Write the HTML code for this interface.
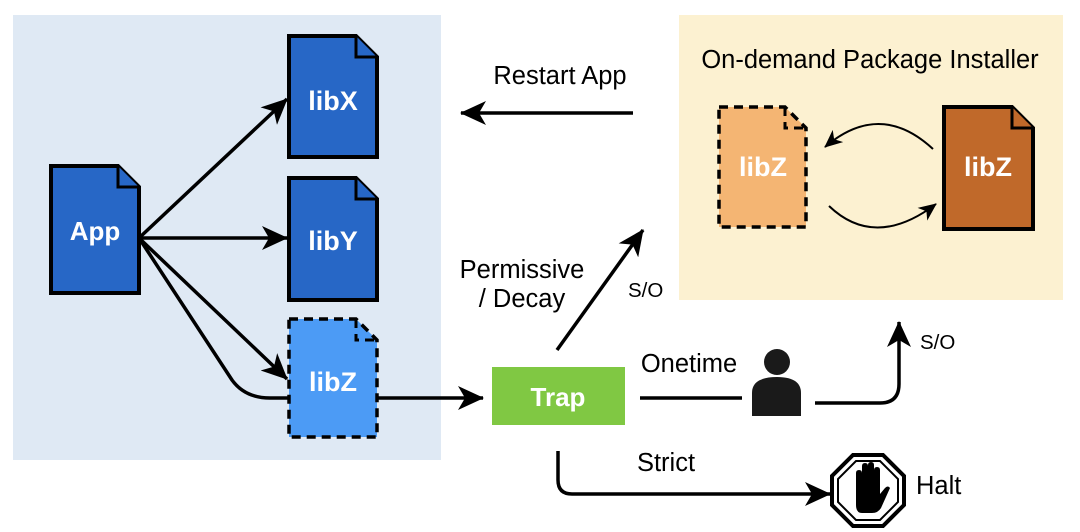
<!DOCTYPE html>
<html><head><style>
html,body{margin:0;padding:0;background:#fff;}
svg{display:block;font-family:"Liberation Sans",Arial,sans-serif;}
</style></head><body>
<svg width="1080" height="532" viewBox="0 0 1080 532" xmlns="http://www.w3.org/2000/svg">
<defs>
<marker id="a" viewBox="0 0 26 24" refX="25" refY="12" markerWidth="26" markerHeight="24" orient="auto" markerUnits="userSpaceOnUse">
<path d="M0,0 L26,12 L0,24 L7,12 Z" fill="#000"/>
</marker>
<marker id="s" viewBox="0 0 18 16" refX="17" refY="8" markerWidth="18" markerHeight="16" orient="auto" markerUnits="userSpaceOnUse">
<path d="M0,0 L18,8 L0,16 L5,8 Z" fill="#000"/>
</marker>
</defs>
<rect x="13" y="15" width="428" height="445" fill="#dfe9f4"/>
<rect x="679" y="15" width="384" height="285" fill="#fcf1d1"/>

<path d="M51,166 H118 L139,187 V293 H51 Z" fill="#2767c6" stroke="#000" stroke-width="4"/>
<path d="M118,166 V187 H139" fill="#2767c6" stroke="#000" stroke-width="3"/>
<text x="95" y="240" font-size="26" font-weight="bold" fill="#fff" text-anchor="middle">App</text>
<path d="M289,36 H356 L377,57 V157 H289 Z" fill="#2767c6" stroke="#000" stroke-width="4"/>
<path d="M356,36 V57 H377" fill="#2767c6" stroke="#000" stroke-width="3"/>
<text x="333" y="110" font-size="27" font-weight="bold" fill="#fff" text-anchor="middle">libX</text>
<path d="M289,178 H356 L377,199 V300 H289 Z" fill="#2767c6" stroke="#000" stroke-width="4"/>
<path d="M356,178 V199 H377" fill="#2767c6" stroke="#000" stroke-width="3"/>
<text x="333" y="250" font-size="27" font-weight="bold" fill="#fff" text-anchor="middle">libY</text>
<path d="M289,319 H356 L377,340 V437 H289 Z" fill="#4c9bf5" stroke="#000" stroke-width="3.5" stroke-dasharray="9,6"/>
<path d="M356,319 V340 H377" fill="none" stroke="#000" stroke-width="3" stroke-dasharray="9,6"/>
<text x="333" y="391" font-size="27" font-weight="bold" fill="#fff" text-anchor="middle">libZ</text>

<g stroke="#000" stroke-width="3.5" fill="none">
<line x1="139" y1="238" x2="287" y2="99" marker-end="url(#a)"/>
<line x1="139" y1="238" x2="287" y2="238" marker-end="url(#a)"/>
<line x1="139" y1="238" x2="287" y2="379" marker-end="url(#a)"/>
<path d="M139,238 L232,380 Q245,398 270,398 H289"/>
<line x1="377" y1="398" x2="483" y2="398" marker-end="url(#a)"/>
<line x1="633" y1="113" x2="461" y2="113" marker-end="url(#a)"/>
<line x1="557" y1="350" x2="643" y2="230" marker-end="url(#a)"/>
<line x1="640" y1="398" x2="742" y2="398"/>
<path d="M815,403 H880 Q899,403 899,384 V322" marker-end="url(#a)"/>
<path d="M558,451 V480 Q558,494 572,494 H830" marker-end="url(#a)"/>
</g>

<rect x="492" y="367" width="133" height="58" fill="#80c843"/>
<text x="558" y="406" font-size="26" font-weight="bold" fill="#fff" text-anchor="middle">Trap</text>

<g font-size="25.5" fill="#000">
<text x="560" y="84" text-anchor="middle">Restart App</text>
<text x="522" y="278" text-anchor="middle">Permissive</text>
<text x="522" y="307" text-anchor="middle">/ Decay</text>
<text x="689" y="372" text-anchor="middle">Onetime</text>
<text x="666" y="471" text-anchor="middle">Strict</text>
<text x="916" y="494">Halt</text>
<text x="870" y="68" text-anchor="middle" font-size="25.5">On-demand Package Installer</text>
</g>
<g font-size="20.5" fill="#000">
<text x="628" y="297">S/O</text>
<text x="920" y="349">S/O</text>
</g>

<circle cx="777" cy="362" r="13" fill="#1a1a1a"/>
<path d="M752,416 V393 Q752,377 777,377 Q801,377 801,393 V416 Z" fill="#1a1a1a"/>

<polygon points="853,455 883,455 904,476 904,505 883,526 853,526 832,505 832,476" fill="#fff" stroke="#000" stroke-width="4"/>
<polygon points="856,461 880,461 898,479 898,502 880,520 856,520 838,502 838,479" fill="#fff" stroke="#000" stroke-width="2"/>
<path d="M856,505 V473 Q856,470 859,470 Q862,470 862,473 V466 Q862,463 865,463 Q868,463 868,466 V465 Q868,462 871,462 Q874,462 874,465 V470 Q874,467 877,467 Q880,467 880,470 V494 L885,488 Q888,485 890,488 L881,508 Q878,513 872,513 H862 Q856,513 856,505 Z" fill="#000"/>

<path d="M719,107 H785 L806,128 V227 H719 Z" fill="#f4b573" stroke="#000" stroke-width="3.5" stroke-dasharray="9,6"/>
<path d="M785,107 V128 H806" fill="none" stroke="#000" stroke-width="3" stroke-dasharray="9,6"/>
<text x="763" y="176" font-size="27" font-weight="bold" fill="#fff" text-anchor="middle">libZ</text>
<path d="M944,107 H1012 L1033,128 V229 H944 Z" fill="#c0692a" stroke="#000" stroke-width="4"/>
<path d="M1012,107 V128 H1033" fill="#c0692a" stroke="#000" stroke-width="3"/>
<text x="988" y="176" font-size="27" font-weight="bold" fill="#fff" text-anchor="middle">libZ</text>
<g stroke="#000" stroke-width="2" fill="none">
<path d="M933,149 Q880,100 825,147" marker-end="url(#s)"/>
<path d="M829,206 Q875,250 936,204" marker-end="url(#s)"/>
</g>
</svg>
</body></html>
